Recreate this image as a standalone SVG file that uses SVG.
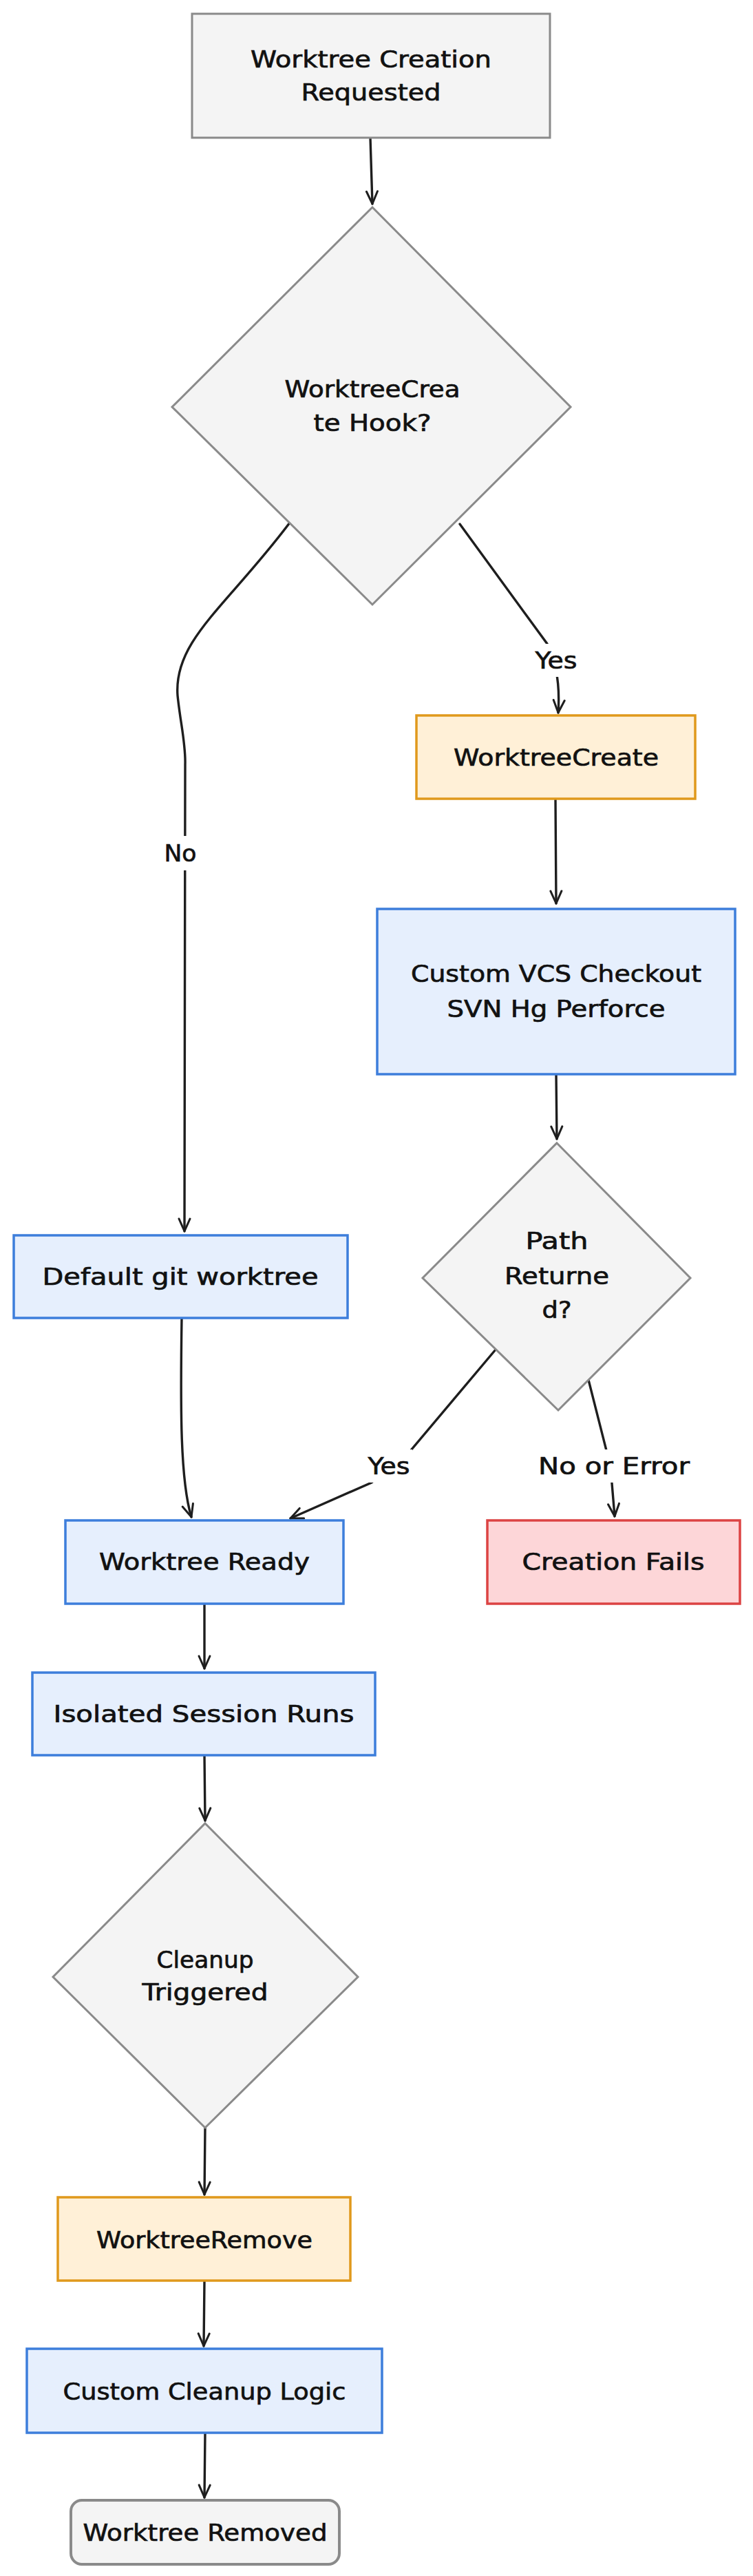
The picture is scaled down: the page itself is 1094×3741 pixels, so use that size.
<svg xmlns="http://www.w3.org/2000/svg" width="1094" height="3741" viewBox="0 0 1094 3741">
<style>
.gray{fill:#f4f4f4;stroke:#8a8a8a;stroke-width:3}
.orange{fill:#fff0d7;stroke:#e0991c;stroke-width:3.5}
.blue{fill:#e6effd;stroke:#3d7edb;stroke-width:3.5}
.red{fill:#fdd6d8;stroke:#dc4343;stroke-width:3.5}
.t{font-family:"DejaVu Sans","Liberation Sans",sans-serif;font-size:34px;fill:#111;stroke:#111;stroke-width:0.7;text-anchor:middle;dominant-baseline:central}
.e{fill:none;stroke:#1e1e1e;stroke-width:3.4;stroke-linecap:round;marker-end:url(#arr)}
.lb{fill:#ffffff}
</style>
<defs>
<marker id="arr" viewBox="0 0 22 22" refX="20" refY="11" markerWidth="22" markerHeight="22" markerUnits="userSpaceOnUse" orient="auto">
<path d="M2,3 L20,11 L2,19" fill="none" stroke="#1e1e1e" stroke-width="3" stroke-linecap="round" stroke-linejoin="round"/>
</marker>
</defs>
<rect width="1094" height="3741" fill="#ffffff"/>

<g id="connectors">
<path class="e" d="M538,200 L541,296"/>
<path class="e" d="M421,759 C330,880 252,930 258,1010 C262,1050 270,1080 269,1110 L268,1788"/>
<path class="e" d="M668,761 L795,935 Q815,975 811,1035"/>
<path class="e" d="M807,1160 L808,1312"/>
<path class="e" d="M808,1560 L809,1654"/>
<path class="e" d="M264,1914 C262,2050 262,2150 278,2203"/>
<path class="e" d="M720,1960 L597,2106 L540,2153 L422,2205"/>
<path class="e" d="M855,2004 L887,2130 L893,2202"/>
<path class="e" d="M297,2329 L297,2423"/>
<path class="e" d="M297,2549 L298,2644"/>
<path class="e" d="M298,3090 L297,3187"/>
<path class="e" d="M297,3312 L296,3407"/>
<path class="e" d="M298,3533 L297,3627"/>
<rect class="lb" x="236" y="1214" width="52" height="50"/>
<text class="t" x="262" y="1239" textLength="47" lengthAdjust="spacingAndGlyphs">No</text>
<rect class="lb" x="774" y="935" width="68" height="48"/>
<text class="t" x="808" y="959" textLength="61" lengthAdjust="spacingAndGlyphs">Yes</text>
<rect class="lb" x="531" y="2105" width="68" height="48"/>
<text class="t" x="565" y="2129" textLength="61" lengthAdjust="spacingAndGlyphs">Yes</text>
<rect class="lb" x="778" y="2105" width="228" height="48"/>
<text class="t" x="892" y="2129" textLength="220" lengthAdjust="spacingAndGlyphs">No or Error</text>
</g>

<g id="n_requested">
<rect class="gray" x="279" y="20" width="520" height="180"/>
<text class="t" x="539" y="86" textLength="350" lengthAdjust="spacingAndGlyphs">Worktree Creation</text>
<text class="t" x="539" y="134" textLength="203" lengthAdjust="spacingAndGlyphs">Requested</text>
</g>

<g id="n_hook">
<polygon class="gray" points="541,301 829,591 541,878 250,591"/>
<text class="t" x="541" y="565" textLength="255" lengthAdjust="spacingAndGlyphs">WorktreeCrea</text>
<text class="t" x="541" y="614" textLength="171" lengthAdjust="spacingAndGlyphs">te Hook?</text>
</g>

<g id="n_wtcreate">
<rect class="orange" x="605" y="1039" width="405" height="121"/>
<text class="t" x="808" y="1100" textLength="298" lengthAdjust="spacingAndGlyphs">WorktreeCreate</text>
</g>

<g id="n_vcs">
<rect class="blue" x="548" y="1320" width="520" height="240"/>
<text class="t" x="808" y="1414" textLength="422" lengthAdjust="spacingAndGlyphs">Custom VCS Checkout</text>
<text class="t" x="808" y="1465" textLength="317" lengthAdjust="spacingAndGlyphs">SVN Hg Perforce</text>
</g>

<g id="n_default">
<rect class="blue" x="20" y="1794" width="485" height="120"/>
<text class="t" x="262" y="1854" textLength="401" lengthAdjust="spacingAndGlyphs">Default git worktree</text>
</g>

<g id="n_path">
<polygon class="gray" points="809,1660 1003,1856 811,2048 614,1856"/>
<text class="t" x="809" y="1802" textLength="91" lengthAdjust="spacingAndGlyphs">Path</text>
<text class="t" x="809" y="1853" textLength="152" lengthAdjust="spacingAndGlyphs">Returne</text>
<text class="t" x="809" y="1902" textLength="43" lengthAdjust="spacingAndGlyphs">d?</text>
</g>

<g id="n_ready">
<rect class="blue" x="95" y="2208" width="404" height="121"/>
<text class="t" x="297" y="2268" textLength="306" lengthAdjust="spacingAndGlyphs">Worktree Ready</text>
</g>

<g id="n_fails">
<rect class="red" x="708" y="2208" width="367" height="121"/>
<text class="t" x="891" y="2268" textLength="265" lengthAdjust="spacingAndGlyphs">Creation Fails</text>
</g>

<g id="n_isolated">
<rect class="blue" x="47" y="2429" width="498" height="120"/>
<text class="t" x="296" y="2489" textLength="437" lengthAdjust="spacingAndGlyphs">Isolated Session Runs</text>
</g>

<g id="n_cleanup">
<polygon class="gray" points="298,2648 520,2871 298,3090 77,2871"/>
<text class="t" x="298" y="2846" textLength="141" lengthAdjust="spacingAndGlyphs">Cleanup</text>
<text class="t" x="298" y="2893" textLength="183" lengthAdjust="spacingAndGlyphs">Triggered</text>
</g>

<g id="n_wtremove">
<rect class="orange" x="84" y="3191" width="425" height="121"/>
<text class="t" x="297" y="3253" textLength="314" lengthAdjust="spacingAndGlyphs">WorktreeRemove</text>
</g>

<g id="n_customcleanup">
<rect class="blue" x="39" y="3411" width="516" height="122"/>
<text class="t" x="297" y="3473" textLength="411" lengthAdjust="spacingAndGlyphs">Custom Cleanup Logic</text>
</g>

<g id="n_removed">
<rect class="gray" x="103" y="3631" width="390" height="93" rx="16" ry="16" style="stroke-width:4"/>
<text class="t" x="298" y="3678" textLength="355" lengthAdjust="spacingAndGlyphs">Worktree Removed</text>
</g>
</svg>
